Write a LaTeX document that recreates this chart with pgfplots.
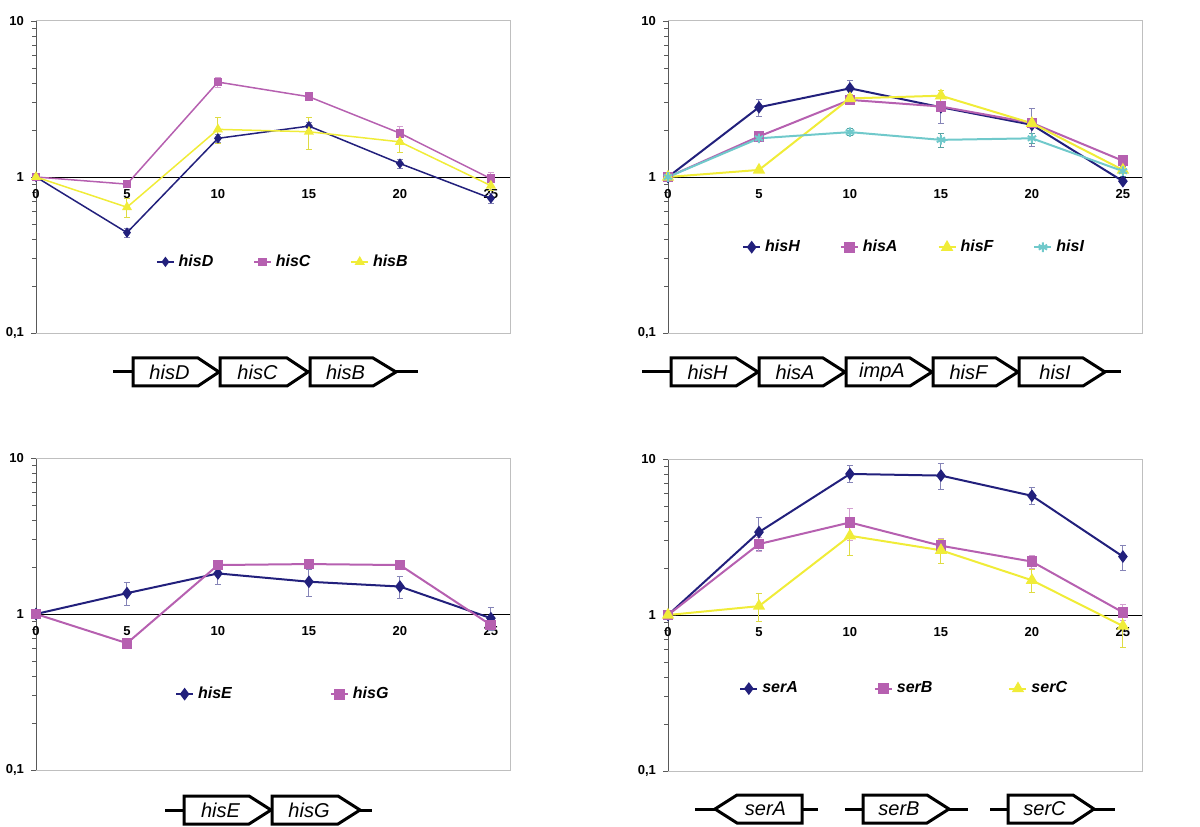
\documentclass[border=0pt]{standalone}
\usepackage{fontspec}
\setmainfont{Liberation Sans}
\usepackage{pgfplots}
\pgfplotsset{compat=1.18}

\definecolor{cnavy}{HTML}{22207C}
\definecolor{cpink}{HTML}{B660B0}
\definecolor{cyel}{HTML}{F0EC38}
\definecolor{ccyan}{HTML}{70C9CB}
\colorlet{enavy}{cnavy!55}
\colorlet{epink}{cpink!60}
\colorlet{eyel}{cyel!85!gray}
\colorlet{ecyan}{ccyan!80!black}

\pgfplotsset{legend image code/.code={\draw[mark repeat=2,mark phase=2,#1] plot coordinates {(0pt,0pt) (4.25pt,0pt) (8.5pt,0pt)};}}

\newcommand{\geneR}[6]{% x0 xc xtip ymid halfh label
  \draw[line width=1.5pt, fill=white, line join=miter] (#1,#4+#5) -- (#2,#4+#5) -- (#3,#4) -- (#2,#4-#5) -- (#1,#4-#5) -- cycle;
  \node[font=\itshape\fontsize{10}{12}\selectfont, inner sep=0pt] at ({(#1+#2)/2+2},#4) {#6};}
\newcommand{\geneL}[6]{% xtip xc x1 ymid halfh label
  \draw[line width=1.5pt, fill=white, line join=miter] (#3,#4+#5) -- (#2,#4+#5) -- (#1,#4) -- (#2,#4-#5) -- (#3,#4-#5) -- cycle;
  \node[font=\itshape\fontsize{10}{12}\selectfont, inner sep=0pt] at ({(#2+#3)/2-2},#4) {#6};}

\begin{document}
\begin{tikzpicture}
\path[use as bounding box] (0,0) rectangle (600pt,413pt);

% ---------------- top left ----------------
\begin{axis}[at={(18pt,246.5pt)}, anchor=south west,
    scale only axis, width=237pt, height=156pt,
    ymode=log, ymin=0.1, ymax=10, xmin=0, xmax=26.05,
    axis x line=middle, axis y line=left, axis line style={-},
    y axis line style={black!65},
    hide obscured x ticks=false,
    ytick={0.1,1,10}, yticklabels={{0,1},1,10},
    xtick={0,5,10,15,20,25}, xticklabels={0,5,10,15,20,25},
    xtick style={draw=none}, ytick style={black!65},
    tick align=outside, major tick length=2.5pt, minor tick length=2pt,
    tick label style={font=\bfseries\fontsize{6.5}{7}\selectfont},
    clip=false,
    legend columns=-1,
    legend style={at={(0.240,0.228)}, anchor=west, draw=none, fill=none,
      font=\bfseries\itshape\fontsize{8}{9}\selectfont,
      /tikz/every even column/.append style={column sep=18pt}}]
\draw[black!25, line width=0.5pt] (rel axis cs:0,1) -- (rel axis cs:1,1) -- (rel axis cs:1,0) -- (rel axis cs:0,0);
\addplot[color=cnavy, line width=0.75pt, mark=diamond*, mark size=2pt, mark options={solid},
  error bars/.cd, y dir=both, y explicit, error bar style={enavy, line width=0.5pt},
  error mark options={rotate=90, mark size=1.5pt, enavy, line width=0.5pt}]
  table[x=x,y=y,y error=e] {
x y e
0 1 0
5 0.44 0.03
10 1.77 0.10
15 2.12 0.12
20 1.22 0.08
25 0.73 0.05
};
\addplot[color=cpink, line width=0.75pt, mark=square*, mark size=1.8pt, mark options={solid},
  error bars/.cd, y dir=both, y explicit, error bar style={epink, line width=0.5pt},
  error mark options={rotate=90, mark size=1.5pt, epink, line width=0.5pt}]
  table[x=x,y=y,y error=e] {
x y e
0 1 0
5 0.90 0.03
10 4.06 0.30
15 3.27 0.12
20 1.91 0.20
25 0.975 0.10
};
\addplot[color=cyel, line width=0.75pt, mark=triangle*, mark size=2.2pt, mark options={solid},
  error bars/.cd, y dir=both, y explicit, error bar style={eyel, line width=0.5pt},
  error mark options={rotate=90, mark size=1.5pt, eyel, line width=0.5pt}]
  table[x=x,y=y,y error=e] {
x y e
0 1 0.02
5 0.64 0.09
10 2.02 0.38
15 1.95 0.45
20 1.68 0.25
25 0.88 0.06
};
\legend{hisD,hisC,hisB}
\end{axis}

% ---------------- top right ----------------
\begin{axis}[at={(334pt,246.5pt)}, anchor=south west,
    scale only axis, width=237pt, height=156pt,
    ymode=log, ymin=0.1, ymax=10, xmin=0, xmax=26.05,
    axis x line=middle, axis y line=left, axis line style={-},
    y axis line style={black!65},
    hide obscured x ticks=false,
    ytick={0.1,1,10}, yticklabels={{0,1},1,10},
    xtick={0,5,10,15,20,25}, xticklabels={0,5,10,15,20,25},
    xtick style={draw=none}, ytick style={black!65},
    tick align=outside, major tick length=2.5pt, minor tick length=2pt,
    tick label style={font=\bfseries\fontsize{6.5}{7}\selectfont},
    clip=false,
    legend columns=-1,
    legend style={at={(0.143,0.275)}, anchor=west, draw=none, fill=none,
      font=\bfseries\itshape\fontsize{8}{9}\selectfont,
      /tikz/every even column/.append style={column sep=18pt}}]
\draw[black!25, line width=0.5pt] (rel axis cs:0,1) -- (rel axis cs:1,1) -- (rel axis cs:1,0) -- (rel axis cs:0,0);
\addplot[color=cnavy, line width=1pt, mark=diamond*, mark size=2.4pt, mark options={solid},
  error bars/.cd, y dir=both, y explicit, error bar style={enavy, line width=0.5pt},
  error mark options={rotate=90, mark size=1.5pt, enavy, line width=0.5pt}]
  table[x=x,y=y,y error=e] {
x y e
0 1 0
5 2.80 0.35
10 3.70 0.45
15 2.80 0.60
20 2.16 0.60
25 0.94 0.03
};
\addplot[color=cpink, line width=1pt, mark=square*, mark size=2.2pt, mark options={solid},
  error bars/.cd, y dir=both, y explicit, error bar style={epink, line width=0.5pt},
  error mark options={rotate=90, mark size=1.5pt, epink, line width=0.5pt}]
  table[x=x,y=y,y error=e] {
x y e
0 1 0
5 1.82 0.08
10 3.12 0.15
15 2.83 0.15
20 2.22 0.10
25 1.27 0.05
};
\addplot[color=cyel, line width=1pt, mark=triangle*, mark size=2.6pt, mark options={solid},
  error bars/.cd, y dir=both, y explicit, error bar style={eyel, line width=0.5pt},
  error mark options={rotate=90, mark size=1.5pt, eyel, line width=0.5pt}]
  table[x=x,y=y,y error=e] {
x y e
0 1 0
5 1.11 0.03
10 3.19 0.20
15 3.32 0.25
20 2.21 0.10
25 1.11 0.05
};
\addplot[color=ccyan, line width=1pt, mark=asterisk, mark size=2.4pt, mark options={solid},
  error bars/.cd, y dir=both, y explicit, error bar style={ecyan, line width=0.5pt},
  error mark options={rotate=90, mark size=1.5pt, ecyan, line width=0.5pt}]
  table[x=x,y=y,y error=e] {
x y e
0 1 0
5 1.77 0.08
10 1.94 0.10
15 1.73 0.18
20 1.77 0.12
25 1.09 0.08
};
\legend{hisH,hisA,hisF,hisI}
\end{axis}

% ---------------- bottom left ----------------
\begin{axis}[at={(18pt,28pt)}, anchor=south west,
    scale only axis, width=237pt, height=156pt,
    ymode=log, ymin=0.1, ymax=10, xmin=0, xmax=26.05,
    axis x line=middle, axis y line=left, axis line style={-},
    y axis line style={black!65},
    hide obscured x ticks=false,
    ytick={0.1,1,10}, yticklabels={{0,1},1,10},
    xtick={0,5,10,15,20,25}, xticklabels={0,5,10,15,20,25},
    xtick style={draw=none}, ytick style={black!65},
    tick align=outside, major tick length=2.5pt, minor tick length=2pt,
    tick label style={font=\bfseries\fontsize{6.5}{7}\selectfont},
    clip=false,
    legend columns=-1,
    legend style={at={(0.280,0.243)}, anchor=west, draw=none, fill=none,
      font=\bfseries\itshape\fontsize{8}{9}\selectfont,
      /tikz/every even column/.append style={column sep=47pt}}]
\draw[black!25, line width=0.5pt] (rel axis cs:0,1) -- (rel axis cs:1,1) -- (rel axis cs:1,0) -- (rel axis cs:0,0);
\addplot[color=cnavy, line width=1pt, mark=diamond*, mark size=2.4pt, mark options={solid},
  error bars/.cd, y dir=both, y explicit, error bar style={enavy, line width=0.5pt},
  error mark options={rotate=90, mark size=1.5pt, enavy, line width=0.5pt}]
  table[x=x,y=y,y error=e] {
x y e
0 1 0
5 1.36 0.23
10 1.82 0.28
15 1.61 0.32
20 1.50 0.25
25 0.94 0.16
};
\addplot[color=cpink, line width=1pt, mark=square*, mark size=2.2pt, mark options={solid},
  error bars/.cd, y dir=both, y explicit, error bar style={epink, line width=0.5pt},
  error mark options={rotate=90, mark size=1.5pt, epink, line width=0.5pt}]
  table[x=x,y=y,y error=e] {
x y e
0 1 0
5 0.65 0.02
10 2.06 0.05
15 2.09 0.10
20 2.06 0.05
25 0.85 0.03
};
\legend{hisE,hisG}
\end{axis}

% ---------------- bottom right ----------------
\begin{axis}[at={(334pt,27.5pt)}, anchor=south west,
    scale only axis, width=237pt, height=156pt,
    ymode=log, ymin=0.1, ymax=10, xmin=0, xmax=26.05,
    axis x line=middle, axis y line=left, axis line style={-},
    y axis line style={black!65},
    hide obscured x ticks=false,
    ytick={0.1,1,10}, yticklabels={{0,1},1,10},
    xtick={0,5,10,15,20,25}, xticklabels={0,5,10,15,20,25},
    xtick style={draw=none}, ytick style={black!65},
    tick align=outside, major tick length=2.5pt, minor tick length=2pt,
    tick label style={font=\bfseries\fontsize{6.5}{7}\selectfont},
    clip=false,
    legend columns=-1,
    legend style={at={(0.137,0.264)}, anchor=west, draw=none, fill=none,
      font=\bfseries\itshape\fontsize{8}{9}\selectfont,
      /tikz/every even column/.append style={column sep=36pt}}]
\draw[black!25, line width=0.5pt] (rel axis cs:0,1) -- (rel axis cs:1,1) -- (rel axis cs:1,0) -- (rel axis cs:0,0);
\addplot[color=cnavy, line width=1pt, mark=diamond*, mark size=2.4pt, mark options={solid},
  error bars/.cd, y dir=both, y explicit, error bar style={enavy, line width=0.5pt},
  error mark options={rotate=90, mark size=1.5pt, enavy, line width=0.5pt}]
  table[x=x,y=y,y error=e] {
x y e
0 1 0
5 3.40 0.80
10 8.02 1.00
15 7.83 1.50
20 5.81 0.72
25 2.37 0.43
};
\addplot[color=cpink, line width=1pt, mark=square*, mark size=2.2pt, mark options={solid},
  error bars/.cd, y dir=both, y explicit, error bar style={epink, line width=0.5pt},
  error mark options={rotate=90, mark size=1.5pt, epink, line width=0.5pt}]
  table[x=x,y=y,y error=e] {
x y e
0 1 0
5 2.85 0.30
10 3.92 0.90
15 2.78 0.30
20 2.20 0.20
25 1.04 0.12
};
\addplot[color=cyel, line width=1pt, mark=triangle*, mark size=2.6pt, mark options={solid},
  error bars/.cd, y dir=both, y explicit, error bar style={eyel, line width=0.5pt},
  error mark options={rotate=90, mark size=1.5pt, eyel, line width=0.5pt}]
  table[x=x,y=y,y error=e] {
x y e
0 1 0
5 1.14 0.23
10 3.22 0.80
15 2.60 0.45
20 1.67 0.28
25 0.85 0.23
};
\legend{serA,serB,serC}
\end{axis}

% ---------------- gene diagrams ----------------
\begin{scope}[x=1pt,y=1pt]
\draw[line width=1.5pt] (56.5,227) -- (209,227);
\geneR{66.5}{99}{109.5}{227}{7}{hisD}
\geneR{110}{143.5}{154}{227}{7}{hisC}
\geneR{155}{186.5}{198}{227}{7}{hisB}
\draw[line width=1.5pt] (321,227) -- (560.5,227);
\geneR{335.5}{368}{379}{227}{7}{hisH}
\geneR{379.5}{411.5}{422.5}{227}{7}{hisA}
\geneR{423}{455}{466}{227}{7}{impA}
\geneR{466.5}{498}{509}{227}{7}{hisF}
\geneR{509.5}{541.5}{552.5}{227}{7}{hisI}
\draw[line width=1.5pt] (82.5,8) -- (186,8);
\geneR{92}{124.5}{135.5}{8}{7}{hisE}
\geneR{136}{169}{180}{8}{7}{hisG}
\draw[line width=1.5pt] (347.5,8.5) -- (409,8.5);
\geneL{357.5}{368.5}{401}{8.5}{7}{serA}
\draw[line width=1.5pt] (422.5,8.5) -- (484,8.5);
\geneR{431.5}{463.5}{474.5}{8.5}{7}{serB}
\draw[line width=1.5pt] (495,8.5) -- (557.5,8.5);
\geneR{504}{536.5}{547}{8.5}{7}{serC}
\end{scope}
\end{tikzpicture}
\end{document}
